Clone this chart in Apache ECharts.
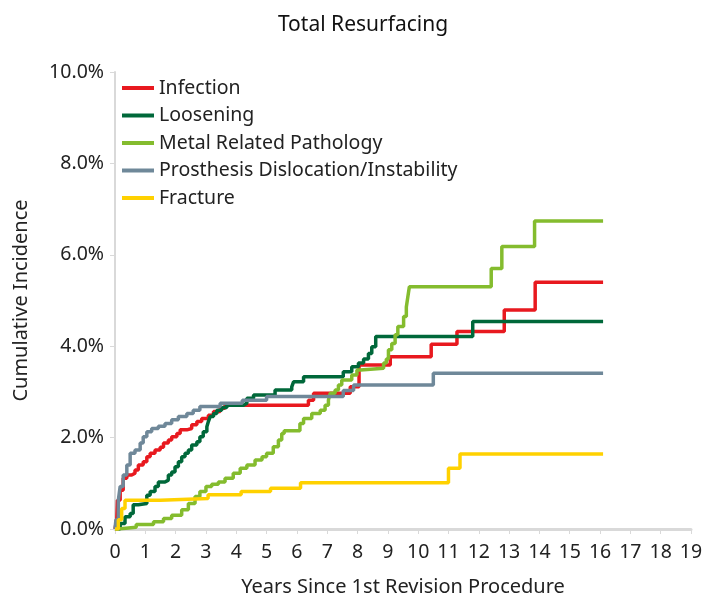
<!DOCTYPE html>
<html lang="en">
  <head>
    <meta charset="UTF-8" />
    <title>Total Resurfacing</title>
    <script src="https://cdn.jsdelivr.net/npm/echarts@6/dist/echarts.min.js"></script>
    <style>
      body { margin: 0; background: #fff; }
    </style>
  </head>
  <body>
    <div id="main" style="width: 703px; height: 597px"></div>
    <script type="text/javascript">
      // [years, cumulative incidence %]
      const infection = [
        [0, 0], [0.06, 0.23], [0.08, 0.63], [0.17, 0.85], [0.27, 1.11], [0.39, 1.18],
        [0.55, 1.22], [0.66, 1.29], [0.77, 1.4], [0.93, 1.47], [1.05, 1.58], [1.16, 1.66],
        [1.32, 1.73], [1.49, 1.79], [1.6, 1.88], [1.76, 1.95], [1.87, 2.02], [2.04, 2.09],
        [2.15, 2.17], [2.37, 2.2], [2.53, 2.28], [2.7, 2.35], [2.86, 2.42], [3.08, 2.49],
        [3.25, 2.57], [3.47, 2.64], [3.63, 2.71], [6.38, 2.82], [6.55, 2.97], [7.76, 3.11],
        [8.05, 3.59], [9.08, 3.77], [10.43, 4.04], [11.28, 4.32], [12.84, 4.79],
        [13.86, 5.4], [16.1, 5.4]
      ];
      const loosening = [
        [0, 0], [0.17, 0.12], [0.33, 0.27], [0.5, 0.34], [0.6, 0.53], [0.77, 0.56],
        [1.05, 0.74], [1.16, 0.82], [1.32, 0.93], [1.43, 1.03], [1.65, 1.07], [1.76, 1.18],
        [1.87, 1.25], [1.98, 1.36], [2.09, 1.47], [2.2, 1.58], [2.31, 1.66], [2.42, 1.73],
        [2.53, 1.84], [2.7, 1.91], [2.8, 2.02], [2.91, 2.13], [3.03, 2.24], [3.08, 2.35],
        [3.14, 2.46], [3.25, 2.53], [3.36, 2.6], [3.52, 2.66], [3.69, 2.71], [4.24, 2.75],
        [4.35, 2.86], [4.57, 2.93], [5.28, 3.04], [5.83, 3.11], [5.89, 3.22], [6.22, 3.33],
        [7.53, 3.44], [7.81, 3.55], [8.03, 3.63], [8.2, 3.72], [8.36, 3.84], [8.47, 3.99],
        [8.6, 4.21], [11.8, 4.54], [16.1, 4.54]
      ];
      const metal = [
        [0, 0], [0.1, 0.04], [0.7, 0.1], [1.27, 0.16], [1.6, 0.23], [1.87, 0.3],
        [2.2, 0.42], [2.42, 0.56], [2.64, 0.71], [2.8, 0.82], [3.0, 0.93], [3.19, 0.98],
        [3.41, 1.03], [3.63, 1.11], [3.9, 1.22], [4.13, 1.33], [4.35, 1.4], [4.62, 1.51],
        [4.85, 1.58], [5.0, 1.66], [5.22, 1.8], [5.39, 1.95], [5.5, 2.09], [5.58, 2.15],
        [6.1, 2.31], [6.22, 2.42], [6.49, 2.53], [6.77, 2.6], [6.93, 2.71], [7.04, 2.82],
        [7.1, 2.97], [7.26, 3.04], [7.37, 3.15], [7.48, 3.26], [7.81, 3.37], [7.98, 3.48],
        [8.1, 3.52], [8.86, 3.63], [8.95, 3.72], [9.02, 3.92], [9.13, 4.06], [9.24, 4.25],
        [9.33, 4.43], [9.52, 4.65], [9.61, 4.86], [9.66, 5.08], [9.71, 5.3], [12.41, 5.7],
        [12.76, 6.18], [13.84, 6.74], [16.1, 6.74]
      ];
      const dislocation = [
        [0, 0], [0.03, 0.2], [0.11, 0.63], [0.17, 0.93], [0.27, 1.18], [0.39, 1.4],
        [0.5, 1.66], [0.66, 1.73], [0.83, 1.88], [0.93, 2.02], [1.05, 2.13], [1.21, 2.2],
        [1.43, 2.25], [1.65, 2.31], [1.87, 2.39], [2.09, 2.46], [2.37, 2.53], [2.58, 2.6],
        [2.8, 2.68], [3.47, 2.75], [4.2, 2.82], [5.0, 2.9], [7.53, 3.03], [7.87, 3.15],
        [10.5, 3.41], [16.1, 3.41]
      ];
      const fracture = [
        [0, 0], [0.11, 0.2], [0.22, 0.45], [0.33, 0.63], [1.5, 0.67], [3.07, 0.75],
        [4.16, 0.82], [5.13, 0.89], [6.12, 1.01], [11.0, 1.33], [11.38, 1.64], [16.1, 1.64]
      ];

      const seriesNames = [
        "Infection",
        "Loosening",
        "Metal Related Pathology",
        "Prosthesis Dislocation/Instability",
        "Fracture"
      ];
      const seriesData = [infection, loosening, metal, dislocation, fracture];
      const colors = ["#E8191F", "#00683A", "#84BC2E", "#6F8899", "#FFD100"];

      const font = "'Noto Sans', 'Open Sans', sans-serif";

      let myChart = echarts.init(document.getElementById("main"));

      let options = {
        animation: false,
        color: colors,
        textStyle: { fontFamily: font },
        title: {
          text: "Total Resurfacing",
          left: 358,
          textAlign: "center",
          top: 10,
          textStyle: { fontSize: 21, fontWeight: "normal", color: "#111", fontFamily: font }
        },
        legend: {
          orient: "vertical",
          left: 117,
          top: 73,
          itemWidth: 32,
          itemHeight: 4,
          itemGap: 7.5,
          icon: "rect",
          textStyle: { fontSize: 19.5, color: "#222", fontFamily: font },
          data: seriesNames
        },
        grid: { left: 115, right: 12, top: 72, bottom: 68, outerBoundsMode: "none" },
        xAxis: {
          type: "value",
          min: 0,
          max: 19,
          interval: 1,
          name: "Years Since 1st Revision Procedure",
          nameLocation: "middle",
          nameGap: 48,
          nameTextStyle: { fontSize: 20, color: "#222" },
          axisLine: { lineStyle: { color: "#D9D9D9", width: 3 } },
          axisTick: { show: true, length: 5, lineStyle: { color: "#D9D9D9" } },
          axisLabel: { fontSize: 19.5, color: "#222", margin: 13 },
          splitLine: { show: false }
        },
        yAxis: {
          type: "value",
          min: 0,
          max: 10,
          interval: 2,
          name: "Cumulative Incidence",
          nameLocation: "middle",
          nameGap: 84,
          nameTextStyle: { fontSize: 20, color: "#222" },
          axisLine: { show: true, lineStyle: { color: "#D9D9D9", width: 2 } },
          axisTick: { show: true, length: 5, lineStyle: { color: "#D9D9D9" } },
          axisLabel: {
            fontSize: 19.5,
            color: "#222",
            margin: 11,
            formatter: (v) => v.toFixed(1) + "%"
          },
          splitLine: { show: false }
        },
        series: seriesNames.map((name, i) => ({
          name: name,
          type: "line",
          step: "end",
          showSymbol: false,
          data: seriesData[i],
          lineStyle: { width: 3.5, color: colors[i] },
          itemStyle: { color: colors[i] }
        }))
      };

      myChart.setOption(options);
    </script>
  </body>
</html>
